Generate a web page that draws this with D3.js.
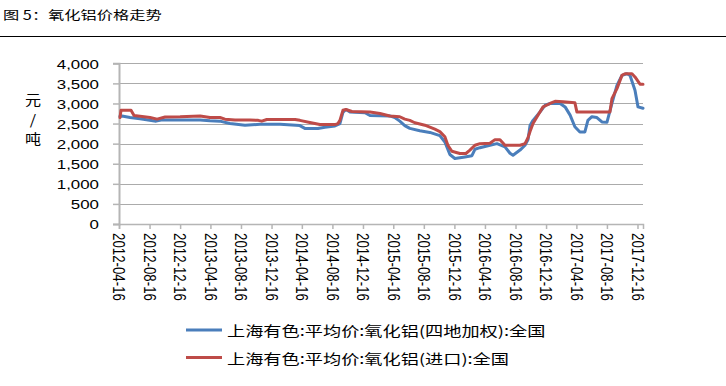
<!DOCTYPE html>
<html>
<head>
<meta charset="utf-8">
<script src="https://cdn.jsdelivr.net/npm/d3@7"></script>
<style>
  html, body { margin: 0; padding: 0; background: #fff; }
  svg { display: block; }
</style>
</head>
<body>
<svg id="chart" width="726" height="386"></svg>
<script>
// ---------- data ----------
const titleText = "图 5：氧化铝价格走势";
const yAxisLabel = ["元", "/", "吨"];
const seriesNames = ["上海有色:平均价:氧化铝(四地加权):全国", "上海有色:平均价:氧化铝(进口):全国"];
const xTickLabels = ["2012-04-16","2012-08-16","2012-12-16","2013-04-16","2013-08-16","2013-12-16",
  "2014-04-16","2014-08-16","2014-12-16","2015-04-16","2015-08-16","2015-12-16","2016-04-16",
  "2016-08-16","2016-12-16","2017-04-16","2017-08-16","2017-12-16"];
const yTicks = [0, 500, 1000, 1500, 2000, 2500, 3000, 3500, 4000];
const xDomain = ["2012-04-16", "2018-01-07"];

const blueDates = ["2012-04-20","2012-04-28","2012-05-30","2012-07-09","2012-09-11","2012-10-01","2013-03-06",
  "2013-04-14","2013-05-24","2013-07-03","2013-09-01","2013-10-31","2014-01-19","2014-04-08","2014-04-28",
  "2014-06-19","2014-07-17","2014-08-26","2014-09-15","2014-09-27","2014-10-09","2014-10-25","2014-12-24",
  "2015-01-13","2015-04-02","2015-04-22","2015-05-12","2015-06-01","2015-06-21","2015-07-31","2015-09-09",
  "2015-10-19","2015-11-08","2015-11-28","2015-12-18","2016-01-27","2016-02-24","2016-03-07","2016-03-27",
  "2016-05-06","2016-06-03","2016-07-05","2016-07-25","2016-08-06","2016-09-03","2016-09-23","2016-10-05",
  "2016-10-13","2016-10-25","2016-11-22","2016-12-12","2017-01-01","2017-02-10","2017-03-02","2017-03-22",
  "2017-04-10","2017-04-30","2017-05-20","2017-06-01","2017-06-17","2017-07-07","2017-07-27","2017-08-16",
  "2017-09-05","2017-09-25","2017-10-15","2017-11-04","2017-11-16","2017-12-06","2017-12-18","2018-01-07"];
const blueValues = [2680,2690,2650,2620,2560,2590,2590,
  2570,2560,2500,2460,2480,2480,2450,2380,
  2375,2410,2440,2500,2780,2850,2790,2770,
  2700,2690,2650,2560,2450,2380,2320,2280,
  2200,2040,1730,1630,1670,1700,1860,1900,
  1960,2000,1920,1760,1710,1840,1960,2100,
  2450,2580,2790,2955,3000,3000,2915,2710,
  2420,2290,2290,2580,2670,2650,2540,2530,
  3000,3450,3700,3740,3700,3330,2915,2880];

const redDates = ["2012-04-20","2012-04-24","2012-05-22","2012-06-03","2012-06-15","2012-07-09","2012-08-18",
  "2012-09-15","2012-10-17","2012-12-16","2013-03-06","2013-04-14","2013-05-24","2013-06-13","2013-07-23",
  "2013-09-21","2013-10-24","2013-11-07","2013-11-27","2014-03-20","2014-04-08","2014-05-18","2014-06-27",
  "2014-08-26","2014-09-07","2014-09-15","2014-09-27","2014-10-09","2014-11-02","2015-01-13","2015-02-22",
  "2015-04-02","2015-05-12","2015-06-01","2015-06-21","2015-07-11","2015-08-20","2015-09-29","2015-10-19",
  "2015-11-08","2015-11-20","2015-12-06","2016-01-07","2016-01-31","2016-02-16","2016-03-07","2016-03-27",
  "2016-05-06","2016-05-26","2016-06-15","2016-07-05","2016-09-03","2016-09-23","2016-10-05","2016-10-13",
  "2016-10-25","2016-11-10","2016-12-04","2017-01-01","2017-01-21","2017-02-22","2017-04-10","2017-04-18",
  "2017-08-28","2017-09-05","2017-09-25","2017-10-15","2017-10-27","2017-11-24","2017-12-06","2017-12-26",
  "2018-01-07"];
const redValues = [2650,2830,2830,2830,2700,2680,2650,
  2610,2665,2670,2690,2650,2650,2610,2590,
  2590,2580,2560,2600,2600,2580,2525,2475,
  2475,2500,2580,2830,2850,2800,2790,2750,
  2690,2670,2610,2580,2520,2460,2360,2300,
  2170,1960,1810,1755,1755,1840,1960,2000,
  2010,2100,2100,1960,1960,2000,2150,2300,
  2500,2670,2915,3000,3055,3040,3020,2790,
  2790,3120,3370,3700,3740,3740,3660,3480,
  3480];

// ---------- layout ----------
const parse = d3.timeParse("%Y-%m-%d");
const svg = d3.select("#chart");
const plot = { left: 119, right: 643, top: 63.3, bottom: 224 };
const SX = 1.3; // horizontal stretch of text
const fontLatin = "'Liberation Sans', Arial, sans-serif";
const fontCJK = "'Noto Sans CJK SC', 'Liberation Sans', sans-serif";
const colors = ["#4a7ebb", "#be4b48"];

const x = d3.scaleTime().domain(xDomain.map(parse)).range([plot.left, plot.right]);
const y = d3.scaleLinear().domain([0, 4000]).range([plot.bottom, plot.top]);

// title
svg.append("text")
  .attr("transform", `translate(3,20) scale(${SX},1)`)
  .attr("font-family", fontCJK).attr("font-size", 12.5).attr("fill", "#000")
  .text(titleText);
svg.append("line").attr("x1", 0).attr("x2", 726).attr("y1", 36.5).attr("y2", 36.5)
  .attr("stroke", "#000").attr("stroke-width", 1);

// gridlines
svg.append("g").selectAll("line").data(yTicks.filter(d => d > 0)).join("line")
  .attr("x1", plot.left).attr("x2", plot.right)
  .attr("y1", d => Math.round(y(d)) + 0.5).attr("y2", d => Math.round(y(d)) + 0.5)
  .attr("stroke", "#ababab").attr("stroke-width", 1);

// y axis
const yAxis = d3.axisLeft(y).tickValues(yTicks).tickSize(6).tickFormat(d3.format(","));
const gy = svg.append("g").attr("transform", `translate(${plot.left},0)`).call(yAxis);
gy.select(".domain").attr("stroke", "#b5b5b5").attr("stroke-width", 2);
gy.selectAll(".tick line").attr("stroke", "#b5b5b5").attr("stroke-width", 1.5);
gy.selectAll(".tick text")
  .attr("x", null).attr("dy", null)
  .attr("transform", `translate(-20,0) scale(${SX},1)`)
  .attr("dominant-baseline", "central")
  .attr("font-family", fontLatin).attr("font-size", 13).attr("fill", "#000");

// x axis
const xAxis = d3.axisBottom(x).tickValues(xTickLabels.map(parse)).tickSize(5).tickFormat(d3.timeFormat("%Y-%m-%d"));
const gx = svg.append("g").attr("transform", `translate(0,${plot.bottom})`).call(xAxis);
gx.select(".domain").attr("stroke", "#b5b5b5").attr("stroke-width", 1.5);
gx.selectAll(".tick line").attr("stroke", "#b5b5b5").attr("stroke-width", 1.5);
gx.selectAll(".tick text")
  .attr("y", null).attr("dy", null)
  .attr("transform", `translate(0,9) scale(${SX},1) rotate(90)`)
  .attr("text-anchor", "start").attr("dominant-baseline", "central")
  .attr("font-family", fontLatin).attr("font-size", 13.3).attr("fill", "#000");

// y axis unit label
svg.append("g").selectAll("text").data(yAxisLabel).join("text")
  .attr("transform", (d, i) => `translate(33,${99 + i * 19.5}) scale(1.15,1)`)
  .attr("text-anchor", "middle").attr("dominant-baseline", "central")
  .attr("font-family", fontCJK).attr("font-size", 14).attr("fill", "#000")
  .text(d => d);

// lines
const line = d3.line().x(d => x(d.date)).y(d => y(d.value)).curve(d3.curveLinear);
const blue = blueDates.map((d, i) => ({ date: parse(d), value: blueValues[i] }));
const red = redDates.map((d, i) => ({ date: parse(d), value: redValues[i] }));
[blue, red].forEach((s, i) => {
  svg.append("path").datum(s)
    .attr("fill", "none").attr("stroke", colors[i]).attr("stroke-width", 3)
    .attr("stroke-linejoin", "round").attr("stroke-linecap", "round")
    .attr("d", line);
});

// legend
const legY = [330, 357.5];
seriesNames.forEach((name, i) => {
  svg.append("line").attr("x1", 186).attr("x2", 222).attr("y1", legY[i]).attr("y2", legY[i])
    .attr("stroke", colors[i]).attr("stroke-width", 3);
  svg.append("text")
    .attr("transform", `translate(227,${legY[i]}) scale(${SX},1)`)
    .attr("dominant-baseline", "central")
    .attr("font-family", fontCJK).attr("font-size", 14).attr("fill", "#000")
    .text(name);
});
</script>
</body>
</html>
